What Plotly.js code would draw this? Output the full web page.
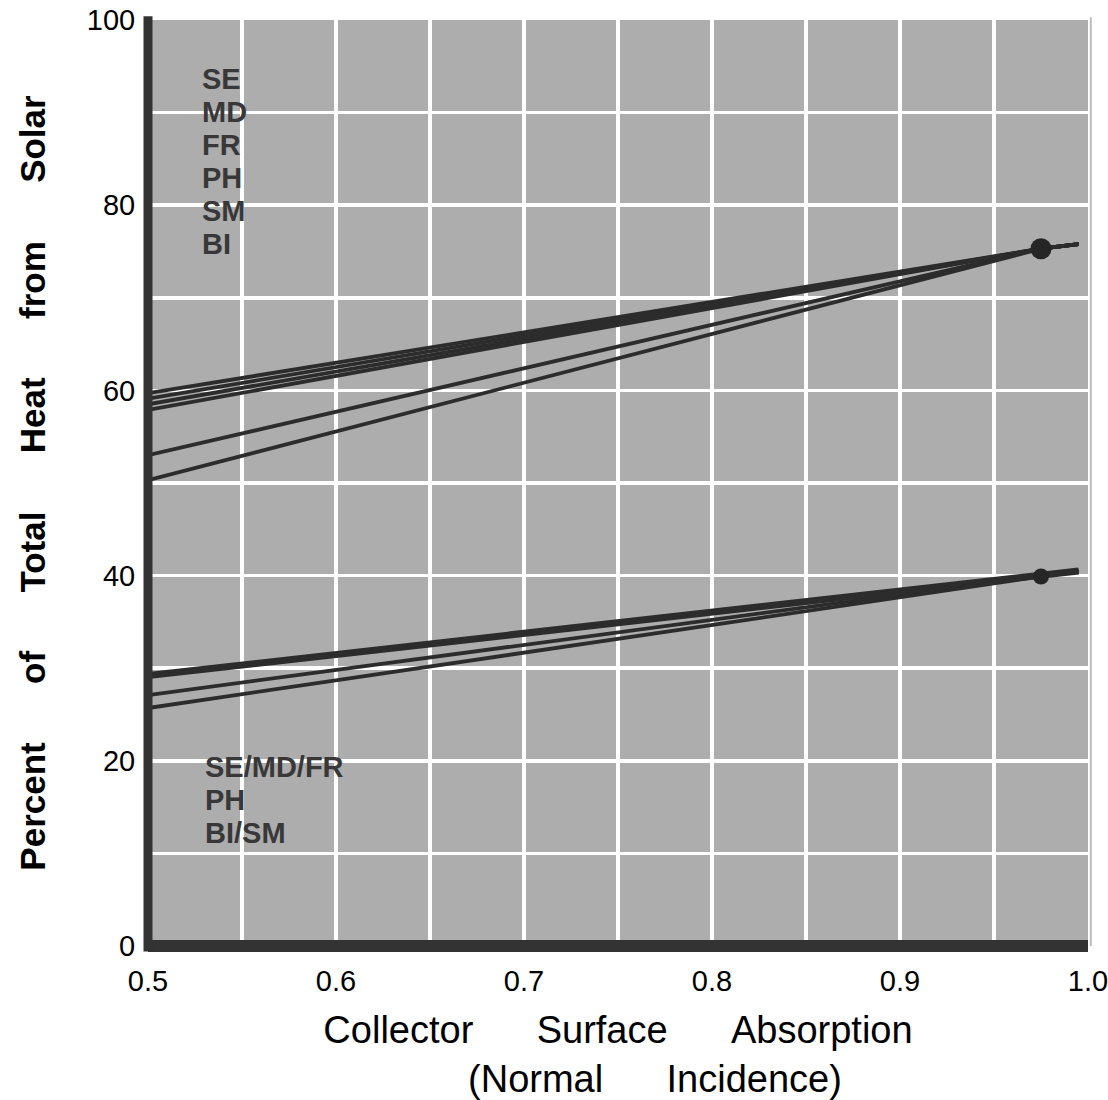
<!DOCTYPE html>
<html>
<head>
<meta charset="utf-8">
<script src="https://cdn.plot.ly/plotly-3.0.1.min.js"></script>
<style>html,body{margin:0;padding:0;background:#fff;}#chart{width:1108px;height:1100px;}</style>
</head>
<body>
<div id="chart"></div>
<script>
// ---- data ----
const absorption = [0.5, 0.975, 0.995];

// upper family (six curves)
const upperNames = ["SE", "MD", "FR", "PH", "SM", "BI"];
const upperSE = [59.7, 75.3, 75.8];
const upperMD = [59.1, 75.3, 75.8];
const upperFR = [58.5, 75.3, 75.8];
const upperPH = [57.9, 75.3, 75.8];
const upperSM = [53.0, 75.3, 75.8];
const upperBI = [50.3, 75.3, 75.8];

// lower family (three curves)
const lowerNames = ["SE/MD/FR", "PH", "BI/SM"];
const lowerSEMDFR = [29.2, 39.9, 40.5];
const lowerPH = [27.1, 39.9, 40.5];
const lowerBISM = [25.7, 39.9, 40.5];

// marked design points
const pointX = [0.975, 0.975];
const pointY = [75.3, 39.9];

const xTickVals = [0.5, 0.6, 0.7, 0.8, 0.9, 1.0];
const xTickText = ["0.5", "0.6", "0.7", "0.8", "0.9", "1.0"];
const yTickVals = [0, 20, 40, 60, 80, 100];
const yTickText = ["0", "20", "40", "60", "80", "100"];

// ---- drawing ----
const ink = "#2c2c2c";
function lineTrace(name, ys, w) {
  return {x: absorption, y: ys, mode: "lines", name: name,
          line: {color: ink, width: w}, hoverinfo: "name+y", showlegend: false};
}
const upperSeries = [upperSE, upperMD, upperFR, upperPH, upperSM, upperBI];
const lowerSeries = [lowerSEMDFR, lowerPH, lowerBISM];
const traces = [];
upperSeries.forEach((ys, i) => traces.push(lineTrace(upperNames[i] + " (upper)", ys, 3.8)));
lowerSeries.forEach((ys, i) => traces.push(lineTrace(lowerNames[i] + " (lower)", ys, i === 0 ? 7 : 3.8)));
traces.push({x: pointX, y: pointY, mode: "markers", name: "design point", showlegend: false,
             marker: {color: "#262626", opacity: 1, size: [21, 16], symbol: "circle", line: {width: 0}}});

const nb = n => "\u00A0".repeat(n);
const annotations = [];
const labelFont = {family: "Liberation Sans, Arial, sans-serif", size: 29, color: "#383838", weight: "bold"};
const pxToPaperY = px => 1 - (px - 20) / 926;
upperNames.forEach((t, i) => annotations.push({
  text: t, xref: "paper", yref: "paper", x: 0.055, y: pxToPaperY(79 + i * 33),
  xanchor: "left", yanchor: "middle", showarrow: false, font: labelFont}));
lowerNames.forEach((t, i) => annotations.push({
  text: t, xref: "paper", yref: "paper", x: 0.058, y: pxToPaperY(767 + i * 33),
  xanchor: "left", yanchor: "middle", showarrow: false, font: labelFont}));

const layout = {
  width: 1108, height: 1100,
  margin: {l: 148, r: 20, t: 20, b: 154, pad: 0},
  paper_bgcolor: "#ffffff",
  plot_bgcolor: "#adadad",
  showlegend: false,
  font: {family: "Liberation Sans, Arial, sans-serif", color: "#000"},
  xaxis: {
    range: [0.5, 1.0], tickvals: xTickVals, ticktext: xTickText,
    ticklabeloverflow: "allow",
    showgrid: true, gridcolor: "#ffffff", gridwidth: 3.5,
    minor: {dtick: 0.05, showgrid: true, gridcolor: "#ffffff", gridwidth: 3.5},
    zeroline: false, showline: false,
    ticks: "outside", ticklen: 9, tickcolor: "rgba(0,0,0,0)",
    tickfont: {size: 29, color: "#000"},
    title: {text: "Collector" + nb(6) + "Surface" + nb(6) + "Absorption<br>" + nb(7) + "(Normal" + nb(6) + "Incidence)",
            font: {size: 38, color: "#000"}, standoff: 46}
  },
  yaxis: {
    range: [0, 100], tickvals: yTickVals, ticktext: yTickText,
    ticklabeloverflow: "allow",
    showgrid: true, gridcolor: "#ffffff", gridwidth: 3.5,
    minor: {dtick: 10, showgrid: true, gridcolor: "#ffffff", gridwidth: 3.5},
    zeroline: true, zerolinecolor: "#333333", zerolinewidth: 12,
    showline: false,
    ticks: "outside", ticklen: 6, tickcolor: "rgba(0,0,0,0)",
    tickfont: {size: 29, color: "#000"},
    title: {text: "<b>Percent" + nb(6) + "of" + nb(6) + "Total" + nb(6) + "Heat" + nb(6) + "from" + nb(6) + "Solar</b>",
            font: {size: 35, color: "#000"}, standoff: 30}
  },
  shapes: [
    {type: "line", xref: "paper", yref: "paper", x0: 0, x1: 0, y0: -0.006, y1: 1.004,
     line: {color: "#333333", width: 9}, layer: "above"},
    {type: "line", xref: "paper", yref: "paper", x0: 1.003, x1: 1.003, y0: 0, y1: 1.003,
     line: {color: "#bdbdbd", width: 2}, layer: "above"}
  ],
  annotations: annotations
};

Plotly.newPlot("chart", traces, layout, {displayModeBar: false, staticPlot: true});
</script>
</body>
</html>
